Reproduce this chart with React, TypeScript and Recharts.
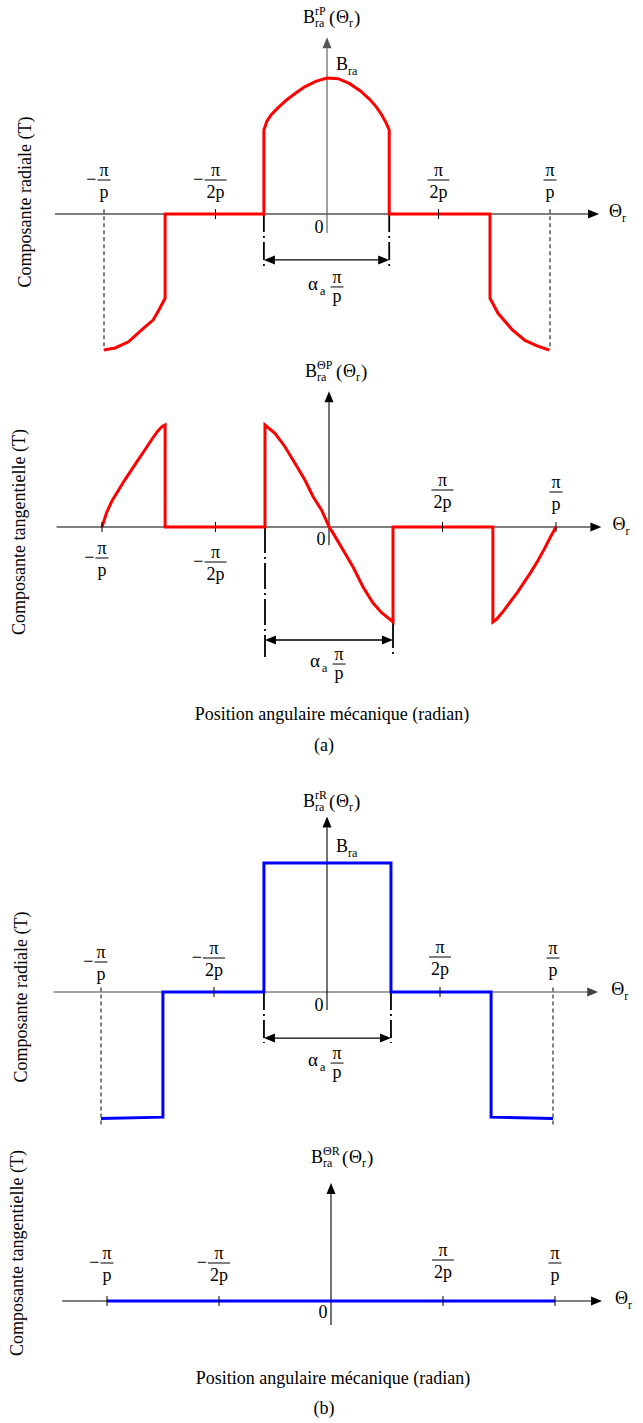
import React from "react";
import { LineChart, Line, XAxis, YAxis, ReferenceLine, ReferenceDot } from "recharts";

const SERIF = "'Liberation Serif', 'Times New Roman', serif";
const W = 643;
const RED = "#ff0000";
const BLUE = "#0000ff";

// x in units of pi/p, y normalised to B_ra
const tickValues = [-1, -0.5, 0.5, 1];
const tickLabels = ["−π/p", "−π/2p", "π/2p", "π/p"];

const radialPU = [-1.0, -0.95, -0.89, -0.83, -0.78, -0.755, -0.726, -0.726, -0.283, -0.283, -0.27, -0.25, -0.22, -0.18, -0.14, -0.1, -0.05, 0.0, 0.05, 0.1, 0.15, 0.19, 0.22, 0.245, 0.265, 0.279, 0.279, 0.731, 0.731, 0.767, 0.83, 0.888, 0.942, 0.996];
const radialPV = [-1.0, -0.985, -0.94, -0.85, -0.78, -0.71, -0.62, 0, 0, 0.618, 0.68, 0.73, 0.78, 0.84, 0.89, 0.935, 0.975, 1.0, 0.995, 0.96, 0.905, 0.845, 0.79, 0.73, 0.67, 0.618, 0, 0, -0.62, -0.73, -0.85, -0.93, -0.97, -1.0];

const tangPU = [-1.0, -0.98, -0.955, -0.93, -0.9, -0.87, -0.84, -0.81, -0.78, -0.755, -0.735, -0.722, -0.722, -0.282, -0.282, -0.238, -0.194, -0.15, -0.106, -0.07, -0.033, 0.001, 0.018, 0.062, 0.106, 0.15, 0.194, 0.233, 0.282, 0.282, 0.722, 0.722, 0.74, 0.77, 0.8, 0.83, 0.86, 0.89, 0.92, 0.95, 0.975, 1.0];
const tangPV = [0, 0.14, 0.26, 0.35, 0.46, 0.56, 0.66, 0.76, 0.86, 0.94, 0.985, 1.0, 0, 0, 1.0, 0.918, 0.787, 0.624, 0.461, 0.297, 0.167, 0, -0.06, -0.225, -0.392, -0.588, -0.745, -0.843, -0.931, 0, 0, -0.931, -0.9, -0.82, -0.73, -0.64, -0.54, -0.44, -0.33, -0.21, -0.1, 0];

const radialRU = [-1.0, -0.726, -0.726, -0.279, -0.279, 0.283, 0.283, 0.726, 0.726, 1.0];
const radialRV = [-0.98, -0.97, 0, 0, 1, 1, 0, 0, -0.97, -0.98];

const tangRU = [-1, 1];
const tangRV = [0, 0];

// edges of the alpha_a * pi/p span
const alphaEdgesP1 = [-0.283, 0.279];
const alphaEdgesP2 = [-0.282, 0.282];
const alphaEdgesR = [-0.279, 0.283];

const zip = (u: number[], v: number[]) => u.map((x, i) => ({ u: x, v: v[i] }));

type Cfg = {
  top: number; height: number; x0: number; sx: number; y0: number; sy: number;
  xd: [number, number]; yd: [number, number]; yLow: number;
  sup: string; titleDx: number; titleDy: number; thetaDx: number; zeroDy: number;
  bars: number[]; marks: number[]; xColor: string; yColor: string;
};

function frame(c: Cfg) {
  return {
    left: c.x0 + c.xd[0] * c.sx,
    right: W - (c.x0 + c.xd[1] * c.sx),
    top: c.y0 - c.yd[1] * c.sy - c.top,
    bottom: c.top + c.height - (c.y0 - c.yd[0] * c.sy),
  };
}

const arrowShape = (color: string, both = false, sw = 1.1) => (p: any) => {
  const { x1, y1, x2, y2 } = p;
  const L = Math.hypot(x2 - x1, y2 - y1) || 1;
  const ux = (x2 - x1) / L, uy = (y2 - y1) / L;
  const len = 11, hw = 4.5;
  const head = (tx: number, ty: number, dx: number, dy: number) =>
    `${tx},${ty} ${tx - dx * len - dy * hw},${ty - dy * len + dx * hw} ${tx - dx * len + dy * hw},${ty - dy * len - dx * hw}`;
  return (
    <g>
      <line x1={both ? x1 + ux * len : x1} y1={both ? y1 + uy * len : y1} x2={x2 - ux * len} y2={y2 - uy * len} stroke={color} strokeWidth={sw} />
      <polygon points={head(x2, y2, ux, uy)} fill={color} />
      {both && <polygon points={head(x1, y1, -ux, -uy)} fill={color} />}
    </g>
  );
};

function Frac({ cx, cy, label, bar }: { cx: number; cy: number; label: string; bar: number }) {
  const neg = label.startsWith("−");
  const den = label.split("/")[1];
  const hw = den.length > 1 ? 11 : 6.5;
  const by = cy + bar;
  return (
    <g fontFamily={SERIF} fontSize={18} fill="#000">
      <text x={cx} y={by - 4} textAnchor="middle">π</text>
      <line x1={cx - hw} x2={cx + hw} y1={by} y2={by} stroke="#000" strokeWidth={1} />
      <text x={cx} y={by + 18} textAnchor="middle">{den}</text>
      {neg && <text x={cx - hw - 1} y={by + 5} textAnchor="end">−</text>}
    </g>
  );
}

function Title({ x, y, sup }: { x: number; y: number; sup: string }) {
  const s = sup.startsWith("Θ") ? 5 : 0;
  return (
    <g fontFamily={SERIF} fill="#000">
      <text x={x} y={y} fontSize={18}>B</text>
      <text x={x + 12} y={y - 8} fontSize={12}>{sup}</text>
      <text x={x + 12} y={y + 4} fontSize={12}>ra</text>
      <text x={x + 26 + s} y={y + 1} fontSize={19}>(</text>
      <text x={x + 33 + s} y={y} fontSize={18}>Θ</text>
      <text x={x + 46 + s} y={y + 4} fontSize={12}>r</text>
      <text x={x + 51 + s} y={y + 1} fontSize={19}>)</text>
    </g>
  );
}

function Alpha({ cx, cy, bar }: { cx: number; cy: number; bar: number }) {
  const fx = cx + 10;
  const by = cy + bar;
  return (
    <g fontFamily={SERIF} fill="#000">
      <text x={fx - 29} y={by + 3} fontSize={19}>α</text>
      <text x={fx - 17} y={by + 8} fontSize={12}>a</text>
      <text x={fx} y={by - 4} fontSize={18} textAnchor="middle">π</text>
      <line x1={fx - 6.5} x2={fx + 6.5} y1={by} y2={by} stroke="#000" strokeWidth={1} />
      <text x={fx} y={by + 15} fontSize={18} textAnchor="middle">p</text>
    </g>
  );
}

const dot = (x: number, y: number, render: (cx: number, cy: number) => React.ReactNode, key: string) => (
  <ReferenceDot key={key} x={x} y={y} r={0} ifOverflow="visible" shape={(p: any) => <g>{render(p.cx, p.cy)}</g>} />
);

const seg = (x1: number, y1: number, x2: number, y2: number, key: string, extra: any) => (
  <ReferenceLine key={key} segment={[{ x: x1, y: y1 }, { x: x2, y: y2 }]} ifOverflow="visible" {...extra} />
);

function Panel({ c, data, color, extras }: { c: Cfg; data: { u: number; v: number }[]; color: string; extras: React.ReactNode[] }) {
  return (
    <div style={{ position: "absolute", left: 0, top: c.top }}>
      <LineChart width={W} height={c.height} data={data} margin={frame(c)}>
        <XAxis type="number" dataKey="u" domain={c.xd} hide />
        <YAxis type="number" dataKey="v" domain={c.yd} hide />
        {seg(c.xd[0], 0, c.xd[1], 0, "xaxis", { shape: arrowShape(c.xColor) })}
        {seg(0, c.yLow, 0, c.yd[1], "yaxis", { shape: arrowShape(c.yColor) })}
        {c.marks.map((t) =>
          dot(t, 0, (cx, cy) => <line x1={cx} x2={cx} y1={cy - 5} y2={cy + 5} stroke="#000" strokeWidth={1} />, "m" + t)
        )}
        {extras}
        <Line type="linear" dataKey="v" stroke={color} strokeWidth={3} dot={false} activeDot={false} isAnimationActive={false} />
        {tickValues.map((t, i) =>
          dot(t, 0, (cx, cy) => <Frac cx={cx} cy={cy} label={tickLabels[i]} bar={c.bars[i]} />, "f" + t)
        )}
        {dot(0, 0, (cx, cy) => (
          <text x={cx - 8} y={cy + c.zeroDy} fontFamily={SERIF} fontSize={18} textAnchor="middle">0</text>
        ), "zero")}
        {dot(0, c.yd[1], (cx, cy) => <Title x={cx + c.titleDx} y={cy + c.titleDy} sup={c.sup} />, "title")}
        {dot(c.xd[1], 0, (cx, cy) => (
          <g fontFamily={SERIF}>
            <text x={cx + c.thetaDx} y={cy + 3} fontSize={18}>Θ</text>
            <text x={cx + c.thetaDx + 13} y={cy + 8} fontSize={12}>r</text>
          </g>
        ), "theta")}
      </LineChart>
    </div>
  );
}

const guides = (edges: number[], lo: number, arrowV: number, bar: number, dashed: number | null, dd: string, rightFrom = 0) => {
  const out: React.ReactNode[] = [];
  if (dashed !== null) {
    out.push(seg(-1, 0.035, -1, dashed, "dl", { stroke: "#000", strokeWidth: 1, strokeDasharray: "4 3" }));
    out.push(seg(1, 0.035, 1, dashed, "dr", { stroke: "#000", strokeWidth: 1, strokeDasharray: "4 3" }));
  }
  out.push(seg(edges[0], 0, edges[0], lo, "al", { stroke: "#000", strokeWidth: 1.8, strokeDasharray: dd }));
  out.push(seg(edges[1], rightFrom, edges[1], lo, "ar", { stroke: "#000", strokeWidth: 1.8, strokeDasharray: dd }));
  out.push(seg(edges[0], arrowV, edges[1], arrowV, "aa", { shape: arrowShape("#000", true, 1.3) }));
  out.push(dot(0, arrowV, (cx, cy) => <Alpha cx={cx} cy={cy} bar={bar} />, "alpha"));
  return out;
};

const bra = (dy: number) =>
  dot(0, 1, (cx, cy) => (
    <g fontFamily={SERIF}>
      <text x={cx + 9} y={cy + dy} fontSize={18}>B</text>
      <text x={cx + 21} y={cy + dy + 5} fontSize={12}>ra</text>
    </g>
  ), "bra");

const P1: Cfg = {
  top: 0, height: 380, x0: 327, sx: 223, y0: 214, sy: 136, xd: [-1.22, 1.22], yd: [-1.2, 1.3], yLow: -0.14,
  sup: "rP", titleDx: -24, titleDy: -14, thetaDx: 10, zeroDy: 19, bars: [-34, -34, -34, -34], marks: [-0.5, 0.5],
  xColor: "#000", yColor: "#555",
};
const P2: Cfg = {
  top: 355, height: 340, x0: 329, sx: 227, y0: 527, sy: 102, xd: [-1.2, 1.2], yd: [-1.45, 1.33], yLow: -0.18,
  sup: "ΘP", titleDx: -24, titleDy: -14, thetaDx: 11, zeroDy: 18, bars: [31, 35, -37, -35], marks: [-1, -0.5, 0.5, 1],
  xColor: "#000", yColor: "#000",
};
const P3: Cfg = {
  top: 780, height: 365, x0: 327, sx: 226, y0: 992, sy: 129, xd: [-1.21, 1.2], yd: [-1.1, 1.36], yLow: -0.14,
  sup: "rR", titleDx: -24, titleDy: -10, thetaDx: 13, zeroDy: 19, bars: [-30, -34, -35, -34], marks: [-0.5, 0.5],
  xColor: "#444", yColor: "#000",
};
const P4: Cfg = {
  top: 1140, height: 200, x0: 331, sx: 224, y0: 1301, sy: 100, xd: [-1.2, 1.21], yd: [-0.3, 1.18], yLow: -0.24,
  sup: "ΘR", titleDx: -20, titleDy: -20, thetaDx: 13, zeroDy: 17, bars: [-38, -38, -41, -38], marks: [-1, -0.5, 0.5, 1],
  xColor: "#000", yColor: "#000",
};

const yLabel = (x: number, y: number, s: string) => (
  <text transform={`translate(${x},${y}) rotate(-90)`} textAnchor="middle" fontSize={18}>{s}</text>
);

export default function App() {
  return (
    <div style={{ position: "absolute", left: 0, top: 0, width: W, height: 1423, background: "#fff", fontFamily: SERIF }}>
      <Panel c={P1} data={zip(radialPU, radialPV)} color={RED}
        extras={[...guides(alphaEdgesP1, -0.39, -0.338, 27, -1.0, "18 4 2 4"), bra(-8)]} />
      <Panel c={P2} data={zip(tangPU, tangPV)} color={RED}
        extras={guides(alphaEdgesP2, -1.275, -1.108, 24, null, "26 4 2 4", -0.931)} />
      <Panel c={P3} data={zip(radialRU, radialRV)} color={BLUE}
        extras={[...guides(alphaEdgesR, -0.395, -0.357, 25, -1.03, "18 4 2 4"), bra(-11)]} />
      <Panel c={P4} data={zip(tangRU, tangRV)} color={BLUE} extras={[]} />
      <svg width={W} height={1423} style={{ position: "absolute", left: 0, top: 0, pointerEvents: "none" }} fontFamily={SERIF} fill="#000">
        {yLabel(31, 202, "Composante radiale  (T)")}
        {yLabel(25, 532, "Composante tangentielle (T)")}
        {yLabel(27, 997, "Composante radiale (T)")}
        {yLabel(23, 1253, "Composante tangentielle (T)")}
        <text x={332} y={720} textAnchor="middle" fontSize={18}>Position angulaire mécanique (radian)</text>
        <text x={324} y={751} textAnchor="middle" fontSize={18}>(a)</text>
        <text x={333} y={1384} textAnchor="middle" fontSize={18}>Position angulaire mécanique (radian)</text>
        <text x={324} y={1414} textAnchor="middle" fontSize={18}>(b)</text>
      </svg>
    </div>
  );
}
